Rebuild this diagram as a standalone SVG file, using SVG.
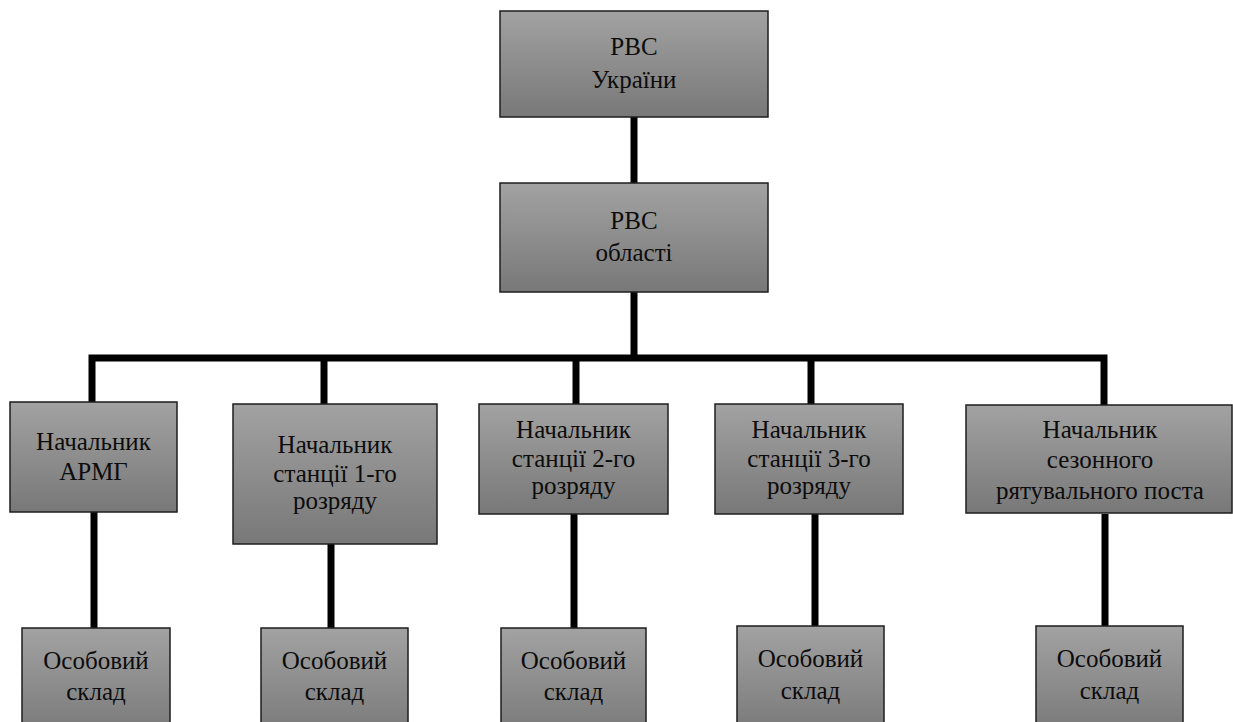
<svg xmlns="http://www.w3.org/2000/svg" width="1233" height="722" viewBox="0 0 1233 722">
<defs>
<linearGradient id="g" x1="0" y1="0" x2="0" y2="1">
<stop offset="0" stop-color="#a2a2a2"/>
<stop offset="1" stop-color="#787878"/>
</linearGradient>
<style>
.box{fill:url(#g);stroke:#1e1e1e;stroke-width:1.5}
.t{font-family:'Liberation Serif','Times New Roman',serif;font-size:25px;fill:#0c0c0c;text-anchor:middle}
.c{stroke:#000;stroke-width:7;fill:none;stroke-linecap:butt}
</style>
</defs>
<rect width="1233" height="722" fill="#fff"/>
<g id="connectors">
<line class="c" x1="634" y1="117" x2="634" y2="183"/>
<line class="c" x1="634" y1="292" x2="634" y2="358"/>
<path class="c" d="M92 402 V358 H1104 V405" stroke-linejoin="miter"/>
<line class="c" x1="324" y1="358" x2="324" y2="404"/>
<line class="c" x1="576" y1="358" x2="576" y2="404"/>
<line class="c" x1="811" y1="358" x2="811" y2="404"/>
<line class="c" x1="94" y1="512" x2="94" y2="628"/>
<line class="c" x1="331" y1="544" x2="331" y2="628"/>
<line class="c" x1="574" y1="514" x2="574" y2="628"/>
<line class="c" x1="815" y1="514" x2="815" y2="626"/>
<line class="c" x1="1105" y1="514" x2="1105" y2="626"/>
</g>
<g id="rvs-ukrainy">
<rect class="box" x="500" y="11" width="268" height="106"/>
<text class="t" x="634" y="55">РВС</text>
<text class="t" x="634" y="88">України</text>
</g>
<g id="rvs-oblasti">
<rect class="box" x="500" y="183" width="268" height="109"/>
<text class="t" x="634" y="229">РВС</text>
<text class="t" x="634" y="261">області</text>
</g>
<g id="armg">
<rect class="box" x="10" y="402" width="167" height="110"/>
<text class="t" x="93.5" y="450">Начальник</text>
<text class="t" x="93.5" y="480">АРМГ</text>
</g>
<g id="st1">
<rect class="box" x="233" y="404" width="204" height="140"/>
<text class="t" x="335" y="453">Начальник</text>
<text class="t" x="335" y="482">станції 1-го</text>
<text class="t" x="335" y="509">розряду</text>
</g>
<g id="st2">
<rect class="box" x="479" y="404" width="189" height="110"/>
<text class="t" x="573.5" y="438">Начальник</text>
<text class="t" x="573.5" y="467">станції 2-го</text>
<text class="t" x="573.5" y="494">розряду</text>
</g>
<g id="st3">
<rect class="box" x="715" y="404" width="188" height="110"/>
<text class="t" x="809" y="438">Начальник</text>
<text class="t" x="809" y="467">станції 3-го</text>
<text class="t" x="809" y="494">розряду</text>
</g>
<g id="post">
<rect class="box" x="966" y="405" width="266" height="108"/>
<text class="t" x="1100" y="438">Начальник</text>
<text class="t" x="1100" y="468">сезонного</text>
<text class="t" x="1100" y="499">рятувального поста</text>
</g>
<g id="os1">
<rect class="box" x="22" y="628" width="148" height="110"/>
<text class="t" x="96" y="669">Особовий</text>
<text class="t" x="96" y="700">склад</text>
</g>
<g id="os2">
<rect class="box" x="261" y="628" width="147" height="110"/>
<text class="t" x="334.5" y="669">Особовий</text>
<text class="t" x="334.5" y="700">склад</text>
</g>
<g id="os3">
<rect class="box" x="501" y="628" width="145" height="110"/>
<text class="t" x="573.5" y="669">Особовий</text>
<text class="t" x="573.5" y="700">склад</text>
</g>
<g id="os4">
<rect class="box" x="737" y="626" width="147" height="110"/>
<text class="t" x="810.5" y="667">Особовий</text>
<text class="t" x="810.5" y="699">склад</text>
</g>
<g id="os5">
<rect class="box" x="1036" y="626" width="147" height="110"/>
<text class="t" x="1109.5" y="667">Особовий</text>
<text class="t" x="1109.5" y="699">склад</text>
</g>
</svg>
